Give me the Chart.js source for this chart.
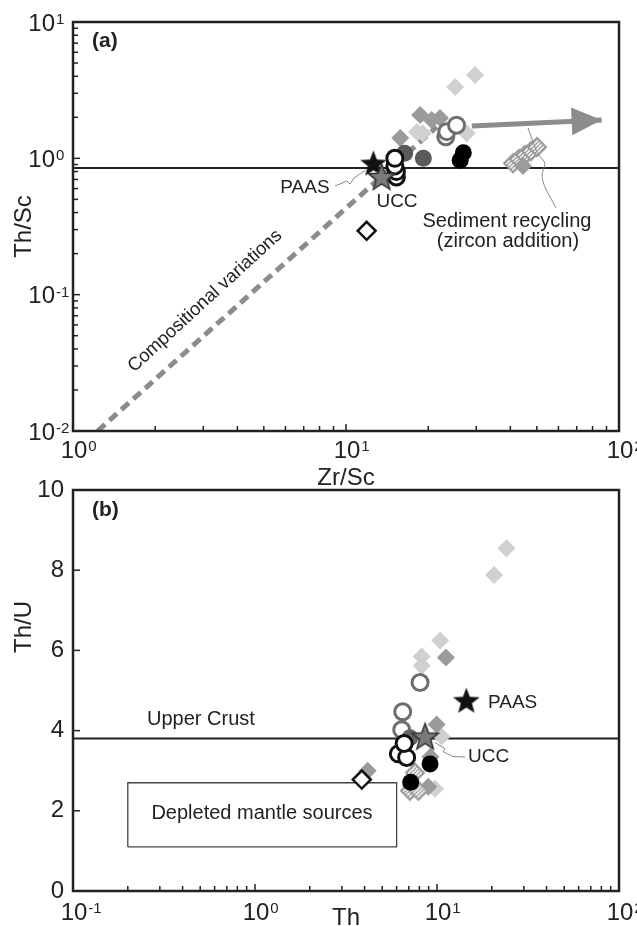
<!DOCTYPE html>
<html><head><meta charset="utf-8">
<script src="https://cdn.jsdelivr.net/npm/chart.js@4"></script>
<style>
html,body{margin:0;padding:0;background:#fff;}
#wrap{position:relative;width:637px;height:926px;background:#fff;}
canvas{position:absolute;left:0;top:0;}
</style></head><body>
<div id="wrap"><canvas id="ca" width="637" height="926"></canvas><canvas id="cb" width="637" height="926"></canvas></div>
<script>
// ---------- Panel (a): Zr/Sc vs Th/Sc ----------
const aLightDiamondZrSc = [29.7, 25.1, 18.2, 19.1, 27.7];
const aLightDiamondThSc = [4.08, 3.33, 1.56, 1.53, 1.53];
const aGrayDiamondZrSc = [18.7, 20.6, 22.1, 15.8];
const aGrayDiamondThSc = [2.08, 1.91, 1.98, 1.41];
const aGrayDotZrSc = [16.4, 19.2];
const aGrayDotThSc = [1.09, 1.00];
const aBlackDotZrSc = [26.9, 26.2];
const aBlackDotThSc = [1.10, 0.97];
const aOpenGrayZrSc = [23.2, 23.4, 25.4];
const aOpenGrayThSc = [1.44, 1.57, 1.75];
const aOpenBlackZrSc = [15.3, 15.3, 15.1, 15.1];
const aOpenBlackThSc = [0.73, 0.80, 0.88, 1.00];
const aHatchedZrSc = [40.9, 43.0, 45.3, 47.6, 50.1];
const aHatchedThSc = [0.92, 0.99, 1.06, 1.13, 1.21];
const aRecycledFillZrSc = [44.5];
const aRecycledFillThSc = [0.88];
const aOpenDiamondZrSc = [11.9];
const aOpenDiamondThSc = [0.294];
const aPAAS = [12.6, 0.92];
const aUCC = [13.5, 0.73];
const aRefThSc = 0.85;
const aTrendZrSc = [1.23, 21.5];
const aTrendThSc = [0.01, 1.7];
const aArrowZrSc = [28.9, 86.4];
const aArrowThSc = [1.73, 1.91];
const aXTickExp = [0, 1, 2];
const aYTickExp = [-2, -1, 0, 1];

// ---------- Panel (b): Th vs Th/U ----------
const bLightDiamondTh = [24.1, 20.6, 10.4, 8.24, 8.24, 10.6, 9.75];
const bLightDiamondThU = [8.55, 7.88, 6.25, 5.85, 5.62, 3.85, 2.55];
const bGrayDiamondTh = [11.2, 9.95, 9.2, 8.96, 4.16];
const bGrayDiamondThU = [5.82, 4.15, 3.35, 2.6, 3.0];
const bOpenGrayTh = [8.07, 6.48, 6.4];
const bOpenGrayThU = [5.2, 4.47, 4.02];
const bOpenBlackTh = [6.13, 6.81, 6.6];
const bOpenBlackThU = [3.42, 3.33, 3.68];
const bGrayDotTh = [7.1];
const bGrayDotThU = [3.82];
const bBlackDotTh = [9.16, 7.17];
const bBlackDotThU = [3.17, 2.71];
const bHatchedTh = [7.57, 7.1, 7.9];
const bHatchedThU = [2.95, 2.5, 2.5];
const bOpenDiamondTh = [3.86];
const bOpenDiamondThU = [2.78];
const bPAAS = [14.5, 4.75];
const bUCC = [8.6, 3.85];
const bUpperCrustThU = 3.8;
const bBoxTh = [0.2, 6];
const bBoxThU = [1.1, 2.7];
const bXTickExp = [-1, 0, 1, 2];
const bYTicks = [0, 2, 4, 6, 8, 10];

const FONT = '"Liberation Sans", Arial, Helvetica, sans-serif';
const pts = (xs, ys) => xs.map((x, i) => ({x, y: ys[i]}));

function makeStar(R, fill, stroke, lw) {
  const s = Math.ceil(2 * R + 4), c = document.createElement('canvas');
  c.width = c.height = s; const g = c.getContext('2d'), m = s / 2, r = R * 0.42;
  g.beginPath();
  for (let i = 0; i < 10; i++) {
    const a = -Math.PI / 2 + i * Math.PI / 5, rr = i % 2 ? r : R;
    g.lineTo(m + rr * Math.cos(a), m + 1 + rr * Math.sin(a));
  }
  g.closePath(); g.fillStyle = fill; g.fill();
  if (stroke) { g.strokeStyle = stroke; g.lineWidth = lw; g.stroke(); }
  return c;
}
function makeHatch(r, color) {
  const s = Math.ceil(2 * r + 4), c = document.createElement('canvas');
  c.width = c.height = s; const g = c.getContext('2d'), m = s / 2;
  const path = () => { g.beginPath(); g.moveTo(m - r, m); g.lineTo(m, m - r); g.lineTo(m + r, m); g.lineTo(m, m + r); g.closePath(); };
  path(); g.fillStyle = '#fff'; g.fill();
  g.save(); path(); g.clip(); g.strokeStyle = color; g.lineWidth = 1.3;
  for (let i = -s; i < 2 * s; i += 4) { g.beginPath(); g.moveTo(i, 0); g.lineTo(i - s, s); g.stroke(); }
  g.restore();
  path(); g.strokeStyle = color; g.lineWidth = 2; g.stroke();
  return c;
}
const starBlack = makeStar(14, '#111', null, 0);
const starGray = makeStar(14, '#7a7a7a', '#333', 1.5);
const hatchImg = makeHatch(9, '#9a9a9a');

function text(ctx, s, x, y, size, o = {}) {
  ctx.save();
  ctx.font = (o.bold ? 'bold ' : '') + size + 'px ' + FONT;
  ctx.fillStyle = o.color || '#222';
  ctx.textAlign = o.align || 'left';
  ctx.textBaseline = 'middle';
  ctx.translate(x, y);
  if (o.rot) ctx.rotate(o.rot);
  ctx.fillText(s, 0, 0);
  ctx.restore();
}
function pow10(ctx, e, x, y, anchor) {
  ctx.save();
  ctx.fillStyle = '#222';
  ctx.font = '24px ' + FONT;
  const w = ctx.measureText('10').width;
  const bx = anchor === 'right' ? x - w : x - w / 2;
  ctx.textAlign = 'left'; ctx.textBaseline = 'alphabetic';
  ctx.fillText('10', bx, y + 8.6);
  ctx.font = '15px ' + FONT;
  ctx.fillText(String(e), bx + w + 1, y + 2);
  ctx.restore();
}
function frame(ctx, a) {
  ctx.save(); ctx.strokeStyle = '#222'; ctx.lineWidth = 2.5;
  ctx.strokeRect(a.left, a.top, a.right - a.left, a.bottom - a.top);
  ctx.restore();
}
function logTicksX(ctx, sc, a, e0, e1) {
  ctx.save(); ctx.strokeStyle = '#222'; ctx.lineWidth = 1.5;
  for (let e = e0; e < e1; e++) for (let m = 1; m <= 9; m++) {
    const px = sc.getPixelForValue(m * Math.pow(10, e));
    const L = m === 1 ? 7 : 5;
    ctx.beginPath(); ctx.moveTo(px, a.bottom); ctx.lineTo(px, a.bottom - L); ctx.stroke();
  }
  ctx.restore();
}
function logTicksY(ctx, sc, a, e0, e1) {
  ctx.save(); ctx.strokeStyle = '#222'; ctx.lineWidth = 1.5;
  for (let e = e0; e < e1; e++) for (let m = 1; m <= 9; m++) {
    const py = sc.getPixelForValue(m * Math.pow(10, e));
    const L = m === 1 ? 7 : 5;
    ctx.beginPath(); ctx.moveTo(a.left, py); ctx.lineTo(a.left + L, py); ctx.stroke();
  }
  ctx.restore();
}
function arrowHead(ctx, x0, y0, x1, y1, len, hw, color) {
  const ang = Math.atan2(y1 - y0, x1 - x0);
  ctx.save(); ctx.translate(x1, y1); ctx.rotate(ang);
  ctx.beginPath(); ctx.moveTo(0, 0); ctx.lineTo(-len, -hw); ctx.lineTo(-len, hw); ctx.closePath();
  ctx.fillStyle = color; ctx.fill(); ctx.restore();
}

const panelA = {
  id: 'panelA',
  afterDatasetsDraw(chart) {
    const ctx = chart.ctx, a = chart.chartArea, xs = chart.scales.x, ys = chart.scales.y;
    const x0 = xs.getPixelForValue(aArrowZrSc[0]), y0 = ys.getPixelForValue(aArrowThSc[0]);
    const x1 = xs.getPixelForValue(aArrowZrSc[1]), y1 = ys.getPixelForValue(aArrowThSc[1]);
    arrowHead(ctx, x0, y0, x1, y1, 30, 14, '#8c8c8c');
    frame(ctx, a);
    logTicksX(ctx, xs, a, 0, 2);
    logTicksY(ctx, ys, a, -2, 1);
    aXTickExp.forEach(e => pow10(ctx, e, xs.getPixelForValue(Math.pow(10, e)) + 1, a.bottom + 18, 'center'));
    aYTickExp.forEach(e => pow10(ctx, e, a.left - 18, ys.getPixelForValue(Math.pow(10, e)), 'right'));
    text(ctx, 'Zr/Sc', (a.left + a.right) / 2, 478, 24, {align: 'center'});
    text(ctx, 'Th/Sc', 24, (a.top + a.bottom) / 2, 24, {align: 'center', rot: -Math.PI / 2});
    text(ctx, '(a)', 92, 41, 21, {bold: true});
    text(ctx, 'PAAS', 305, 188, 19, {align: 'center'});
    text(ctx, 'UCC', 397, 202, 19, {align: 'center'});
    text(ctx, 'Sediment recycling', 507, 221, 20, {align: 'center'});
    text(ctx, '(zircon addition)', 508, 241, 20, {align: 'center'});
    text(ctx, 'Compositional variations', 205, 301, 18.5, {align: 'center', rot: -42.5 * Math.PI / 180});
    ctx.save(); ctx.strokeStyle = '#888'; ctx.lineWidth = 1;
    const px = xs.getPixelForValue(aPAAS[0]), py = ys.getPixelForValue(aPAAS[1]);
    ctx.beginPath(); ctx.moveTo(335, 186); ctx.lineTo(347, 181); ctx.lineTo(350, 184); ctx.lineTo(354, 178); ctx.lineTo(px - 8, py + 7); ctx.stroke();
    ctx.beginPath(); ctx.moveTo(556, 208); ctx.bezierCurveTo(548, 192, 538, 180, 544, 168);
    ctx.bezierCurveTo(548, 160, 538, 158, 536, 150); ctx.lineTo(528, 128); ctx.stroke();
    ctx.restore();
  }
};
const panelB = {
  id: 'panelB',
  afterDatasetsDraw(chart) {
    const ctx = chart.ctx, a = chart.chartArea, xs = chart.scales.x, ys = chart.scales.y;
    frame(ctx, a);
    logTicksX(ctx, xs, a, -1, 2);
    ctx.save(); ctx.strokeStyle = '#222'; ctx.lineWidth = 1.5;
    bYTicks.forEach(v => { const py = ys.getPixelForValue(v); ctx.beginPath(); ctx.moveTo(a.left, py); ctx.lineTo(a.left + 7, py); ctx.stroke(); });
    ctx.restore();
    bXTickExp.forEach(e => pow10(ctx, e, xs.getPixelForValue(Math.pow(10, e)) + 1, a.bottom + 20, 'center'));
    bYTicks.forEach(v => text(ctx, String(v), a.left - 9, ys.getPixelForValue(v), 24, {align: 'right'}));
    text(ctx, 'Th', (a.left + a.right) / 2, 918, 24, {align: 'center'});
    text(ctx, 'Th/U', 24, 627, 24, {align: 'center', rot: -Math.PI / 2});
    text(ctx, '(b)', 92, 510, 21, {bold: true});
    text(ctx, 'Upper Crust', 147, 719, 20);
    text(ctx, 'Depleted mantle sources', 262, 813, 20, {align: 'center'});
    text(ctx, 'PAAS', 488, 703, 19);
    text(ctx, 'UCC', 468, 757, 19);
    ctx.save(); ctx.strokeStyle = '#888'; ctx.lineWidth = 1;
    const ux = xs.getPixelForValue(bUCC[0]), uy = ys.getPixelForValue(bUCC[1]);
    ctx.beginPath(); ctx.moveTo(ux + 10, uy + 6); ctx.lineTo(ux + 20, uy + 12); ctx.lineTo(ux + 18, uy + 15); ctx.lineTo(ux + 28, uy + 20); ctx.lineTo(465, 757); ctx.stroke();
    ctx.restore();
  }
};

function scatterDS(data, o) {
  return Object.assign({data, showLine: false, pointRadius: 9, pointHoverRadius: 9, pointBorderWidth: 0}, o);
}
function lineDS(data, color, width, dash, order) {
  return {data, showLine: true, borderColor: color, borderWidth: width, borderDash: dash || [], pointRadius: 0, pointHoverRadius: 0, fill: false, order, tension: 0};
}
const commonOpts = (pad, xType, xMin, xMax, yType, yMin, yMax) => ({
  responsive: false, animation: false, events: [],
  layout: {padding: pad},
  plugins: {legend: {display: false}, tooltip: {enabled: false}},
  scales: {
    x: {type: xType, min: xMin, max: xMax, display: false},
    y: {type: yType, min: yMin, max: yMax, display: false}
  }
});
const openCircle = (color, order) => ({pointStyle: 'circle', pointRadius: 8, backgroundColor: '#fff', borderColor: color, pointBorderWidth: 3, order});
const dot = (color, order) => ({pointStyle: 'circle', pointRadius: 8.5, backgroundColor: color, order});

new Chart(document.getElementById('ca'), {
  type: 'scatter',
  data: {datasets: [
    lineDS([{x: 1, y: aRefThSc}, {x: 100, y: aRefThSc}], '#222', 2, null, 20),
    lineDS(pts(aTrendZrSc, aTrendThSc), '#8c8c8c', 5, [10, 6], 19),
    lineDS(pts(aArrowZrSc, aArrowThSc), '#8c8c8c', 5, null, 18),
    scatterDS(pts(aLightDiamondZrSc, aLightDiamondThSc), {pointStyle: 'rectRot', backgroundColor: '#d0d0d0', order: 12}),
    scatterDS(pts(aGrayDiamondZrSc, aGrayDiamondThSc), {pointStyle: 'rectRot', backgroundColor: '#9b9b9b', order: 11}),
    scatterDS(pts(aHatchedZrSc, aHatchedThSc), {pointStyle: hatchImg, order: 10}),
    scatterDS(pts(aRecycledFillZrSc, aRecycledFillThSc), {pointStyle: 'rectRot', backgroundColor: '#9b9b9b', order: 9}),
    scatterDS(pts(aOpenGrayZrSc, aOpenGrayThSc), openCircle('#6e6e6e', 6)),
    scatterDS(pts(aGrayDotZrSc, aGrayDotThSc), dot('#5a5a5a', 5)),
    scatterDS(pts(aBlackDotZrSc, aBlackDotThSc), dot('#000', 5)),
    scatterDS(pts(aOpenBlackZrSc, aOpenBlackThSc), openCircle('#111', 4)),
    scatterDS(pts(aOpenDiamondZrSc, aOpenDiamondThSc), {pointStyle: 'rectRot', pointRadius: 9, backgroundColor: '#fff', borderColor: '#111', pointBorderWidth: 2.5, order: 4}),
    scatterDS([{x: aPAAS[0], y: aPAAS[1]}], {pointStyle: starBlack, pointRadius: 10, order: 2}),
    scatterDS([{x: aUCC[0], y: aUCC[1]}], {pointStyle: starGray, pointRadius: 10, order: 1})
  ]},
  options: commonOpts({left: 73, top: 22, right: 18, bottom: 495}, 'logarithmic', 1, 100, 'logarithmic', 0.01, 10),
  plugins: [panelA]
});

new Chart(document.getElementById('cb'), {
  type: 'scatter',
  data: {datasets: [
    lineDS([{x: 0.1, y: bUpperCrustThU}, {x: 100, y: bUpperCrustThU}], '#222', 2, null, 20),
    lineDS([{x: bBoxTh[0], y: bBoxThU[0]}, {x: bBoxTh[1], y: bBoxThU[0]}, {x: bBoxTh[1], y: bBoxThU[1]}, {x: bBoxTh[0], y: bBoxThU[1]}, {x: bBoxTh[0], y: bBoxThU[0]}], '#444', 1.3, null, 19),
    scatterDS(pts(bLightDiamondTh, bLightDiamondThU), {pointStyle: 'rectRot', backgroundColor: '#d0d0d0', order: 12}),
    scatterDS(pts(bGrayDiamondTh, bGrayDiamondThU), {pointStyle: 'rectRot', backgroundColor: '#9b9b9b', order: 11}),
    scatterDS(pts(bHatchedTh, bHatchedThU), {pointStyle: hatchImg, order: 10}),
    scatterDS(pts(bOpenGrayTh, bOpenGrayThU), openCircle('#6e6e6e', 6)),
    scatterDS(pts(bGrayDotTh, bGrayDotThU), dot('#666', 5)),
    scatterDS(pts(bOpenBlackTh, bOpenBlackThU), openCircle('#111', 4)),
    scatterDS(pts(bBlackDotTh, bBlackDotThU), dot('#000', 3)),
    scatterDS(pts(bOpenDiamondTh, bOpenDiamondThU), {pointStyle: 'rectRot', pointRadius: 9, backgroundColor: '#fff', borderColor: '#111', pointBorderWidth: 2.5, order: 4}),
    scatterDS([{x: bPAAS[0], y: bPAAS[1]}], {pointStyle: starBlack, pointRadius: 10, order: 2}),
    scatterDS([{x: bUCC[0], y: bUCC[1]}], {pointStyle: starGray, pointRadius: 10, order: 1})
  ]},
  options: commonOpts({left: 73, top: 490, right: 18, bottom: 35}, 'logarithmic', 0.1, 100, 'linear', 0, 10),
  plugins: [panelB]
});
</script>
</body></html>
